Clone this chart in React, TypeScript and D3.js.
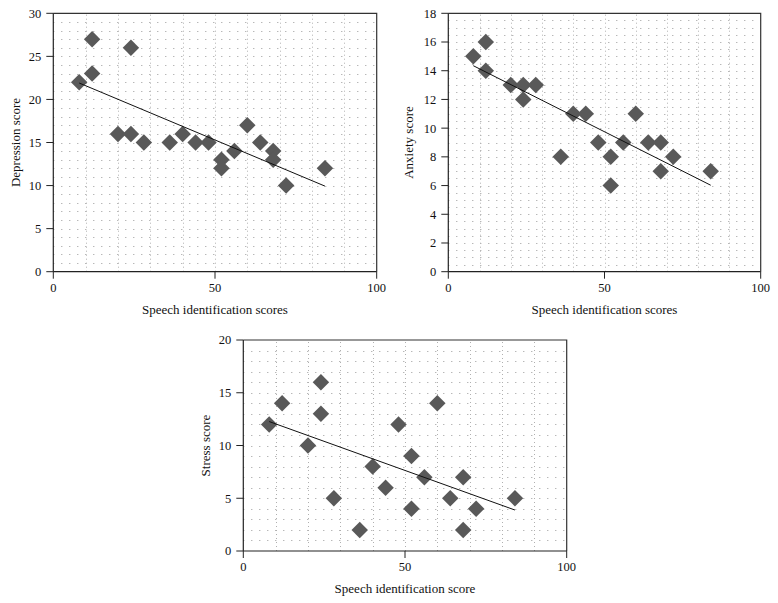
import React from "react";
import * as d3 from "d3";

const speechX = [8, 12, 12, 20, 24, 24, 28, 36, 40, 44, 48, 52, 52, 56, 60, 64, 68, 68, 72, 84];
const depression = [22, 27, 23, 16, 26, 16, 15, 15, 16, 15, 15, 13, 12, 14, 17, 15, 14, 13, 10, 12];
const anxietyX = [8, 12, 12, 20, 24, 24, 28, 36, 40, 44, 48, 52, 52, 56, 60, 64, 68, 68, 72, 84];
const anxiety = [15, 16, 14, 13, 13, 12, 13, 8, 11, 11, 9, 8, 6, 9, 11, 9, 9, 7, 8, 7];
const stressX = [8, 12, 20, 24, 24, 28, 36, 40, 44, 48, 52, 52, 56, 60, 64, 68, 68, 72, 84];
const stress = [12, 14, 10, 16, 13, 5, 2, 8, 6, 12, 9, 4, 7, 14, 5, 7, 2, 4, 5];

const xTicks = [0, 50, 100];
const depTicks = [0, 5, 10, 15, 20, 25, 30];
const anxTicks = [0, 2, 4, 6, 8, 10, 12, 14, 16, 18];
const strTicks = [0, 5, 10, 15, 20];

type PanelProps = {
  xs: number[];
  ys: number[];
  yMax: number;
  yTicks: number[];
  gridStep: number;
  x0: number;
  x1: number;
  y0: number;
  y1: number;
  yTitle: string;
  xTitle: string;
  yTitleX: number;
  xTitleY: number;
};

const FONT = "'Liberation Serif', 'DejaVu Serif', serif";

function Panel(p: PanelProps) {
  const x = d3.scaleLinear().domain([0, 100]).range([p.x0, p.x1]);
  const y = d3.scaleLinear().domain([0, p.yMax]).range([p.y0, p.y1]);
  const mx = d3.mean(p.xs)!;
  const my = d3.mean(p.ys)!;
  let num = 0, den = 0;
  p.xs.forEach((v, i) => { num += (v - mx) * (p.ys[i] - my); den += (v - mx) * (v - mx); });
  const slope = num / den;
  const icpt = my - slope * mx;
  const xmin = d3.min(p.xs)!;
  const xmax = d3.max(p.xs)!;
  const hGrid = d3.range(p.gridStep, p.yMax, p.gridStep);
  const vGrid = d3.range(10, 100, 10);
  const diamond = d3.symbol().type(d3.symbolSquare).size(136)()!;
  const line = d3.line<number>().x((d) => x(d)).y((d) => y(icpt + slope * d));
  return (
    <g>
      {hGrid.map((g) => (
        <line key={"h" + g} x1={x(0)} x2={x(100)} y1={Math.round(y(g)) + 0.5} y2={Math.round(y(g)) + 0.5}
          stroke="#9a9a9a" strokeWidth={1} strokeDasharray="1,7" />
      ))}
      {vGrid.map((g) => (
        <line key={"v" + g} x1={Math.round(x(g)) + 0.5} x2={Math.round(x(g)) + 0.5} y1={y(0)} y2={y(p.yMax)}
          stroke="#b0b0b0" strokeWidth={1} strokeDasharray="1,3" />
      ))}
      {/* frame */}
      <path d={`M${x(0)},${y(p.yMax)}H${x(100)}V${y(0)}`} fill="none" stroke="#333" strokeWidth={1.2} />
      <line x1={x(0)} x2={x(0)} y1={y(0)} y2={y(p.yMax)} stroke="#222" strokeWidth={1.2} />
      <line x1={x(0)} x2={x(100)} y1={y(0)} y2={y(0)} stroke="#222" strokeWidth={1.2} />
      {p.yTicks.map((t) => (
        <g key={"yt" + t}>
          <line x1={x(0) - 7} x2={x(0)} y1={y(t)} y2={y(t)} stroke="#222" strokeWidth={1} />
          <text x={x(0) - 12} y={y(t)} dy="0.35em" textAnchor="end" fontSize={12.5} fontFamily={FONT} fill="#111">{t}</text>
        </g>
      ))}
      {xTicks.map((t) => (
        <g key={"xt" + t}>
          <line x1={x(t)} x2={x(t)} y1={y(0)} y2={y(0) + 7} stroke="#222" strokeWidth={1} />
          <text x={x(t)} y={y(0) + 20} textAnchor="middle" fontSize={12.5} fontFamily={FONT} fill="#111">{t}</text>
        </g>
      ))}
      {p.xs.map((v, i) => (
        <path key={"m" + i} d={diamond} transform={`translate(${x(v)},${y(p.ys[i])}) rotate(45)`} fill="#595959" />
      ))}
      <path d={line([xmin, xmax])!} fill="none" stroke="#111" strokeWidth={1} />
      <text x={(p.x0 + p.x1) / 2} y={p.xTitleY} dy="0.35em" textAnchor="middle" fontSize={13} fontFamily={FONT} fill="#111">{p.xTitle}</text>
      <text transform={`translate(${p.yTitleX},${(p.y0 + p.y1) / 2}) rotate(-90)`} dy="0.35em" textAnchor="middle" fontSize={13} fontFamily={FONT} fill="#111">{p.yTitle}</text>
    </g>
  );
}

export default function App() {
  return (
    <svg width={778} height={603} style={{ position: "absolute", left: 0, top: 0, background: "#fff" }}>
      <rect width={778} height={603} fill="#fff" />
      <Panel xs={speechX} ys={depression} yMax={30} yTicks={depTicks} gridStep={1}
        x0={53.3} x1={376.7} y0={271.7} y1={13.3} yTitle="Depression score" xTitle="Speech identification scores"
        yTitleX={15} xTitleY={309} />
      <Panel xs={anxietyX} ys={anxiety} yMax={18} yTicks={anxTicks} gridStep={0.5}
        x0={448.3} x1={760.7} y0={271.7} y1={13.3} yTitle="Anxiety score" xTitle="Speech identification scores"
        yTitleX={408} xTitleY={309} />
      <Panel xs={stressX} ys={stress} yMax={20} yTicks={strTicks} gridStep={1}
        x0={243.3} x1={566.7} y0={551} y1={340} yTitle="Stress score" xTitle="Speech identification score"
        yTitleX={205} xTitleY={588} />
    </svg>
  );
}
